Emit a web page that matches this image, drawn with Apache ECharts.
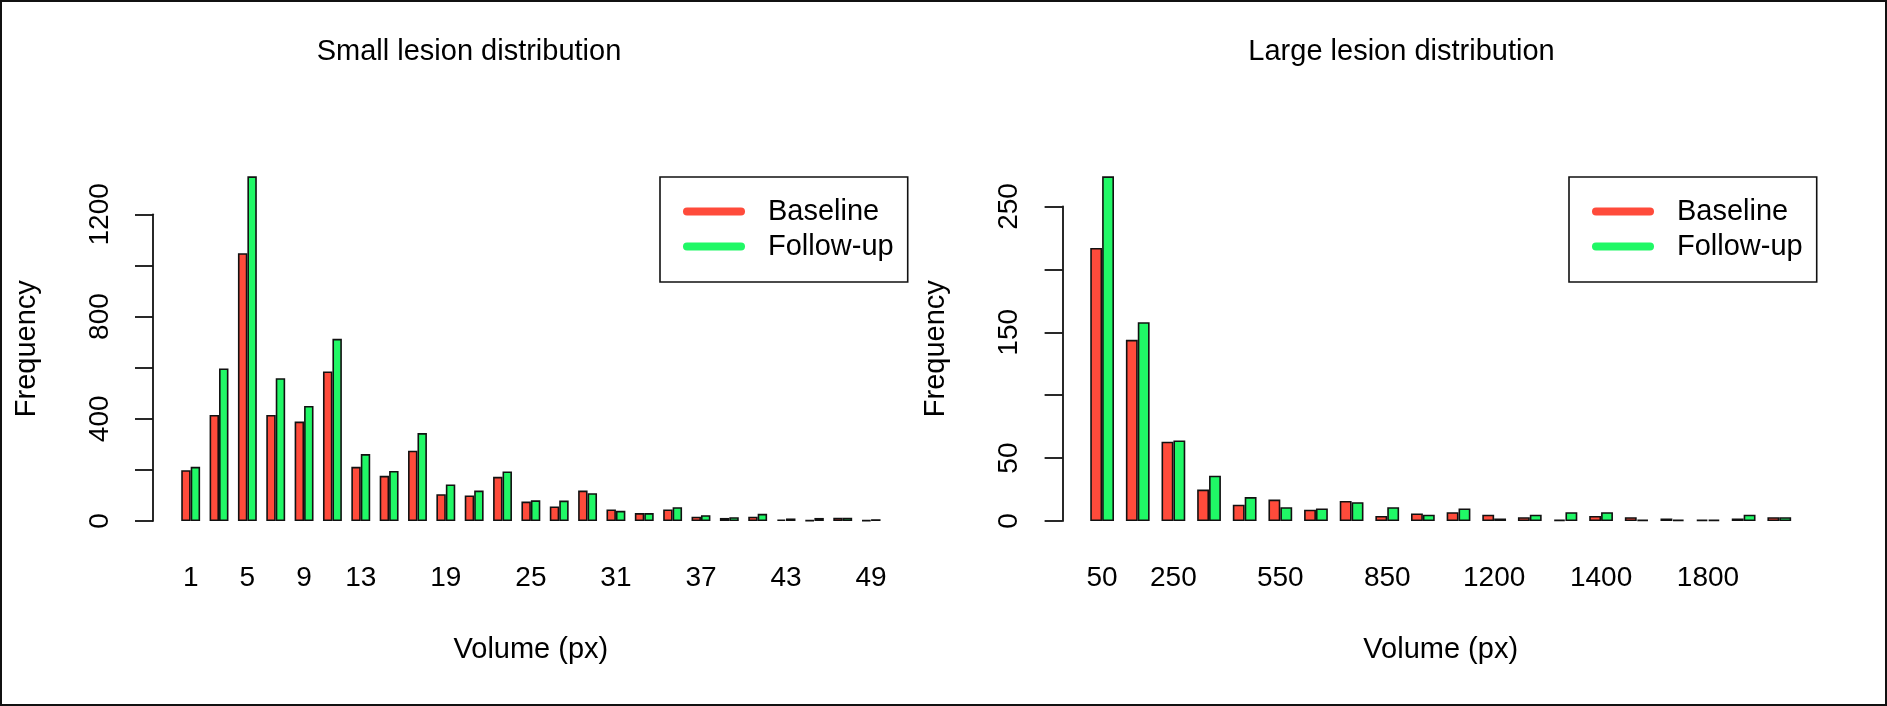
<!DOCTYPE html>
<html><head><meta charset="utf-8">
<script src="https://cdn.jsdelivr.net/npm/echarts@6/dist/echarts.min.js"></script>
<style>html,body{margin:0;padding:0;background:#fff}#c{width:1887px;height:706px}</style>
</head><body><div id="c"></div>
<script>
// ---------- data ----------
const smallCategories = ['1','3','5','7','9','11','13','15','17','19','21','23','25','27','29','31','33','35','37','39','41','43','45','47','49'];
const smallBaseline  = [199, 415, 1048, 415, 389, 585, 212, 177, 275, 105, 100, 173, 76, 57, 119, 45, 31, 45, 17, 12, 17, 6, 3, 13, 3];
const smallFollowUp  = [212, 597, 1349, 559, 450, 713, 262, 196, 344, 143, 119, 194, 81, 80, 109, 40, 31, 54, 23, 15, 28, 10, 12, 13, 7];
const smallYLabels   = [0, 400, 800, 1200];
const smallXLabelIdx = [0, 2, 4, 6, 9, 12, 15, 18, 21, 24];

const largeCategories = ['50','150','250','350','450','550','650','750','850','950','1050','1200','1250','1300','1400','1500','1650','1800','1900','2000'];
const largeBaseline  = [217, 144, 63, 25, 13, 17, 9, 16, 4, 6, 7, 5, 3, 1, 4, 3, 2, 1, 2, 3];
const largeFollowUp  = [274, 158, 64, 36, 19, 11, 10, 15, 11, 5, 10, 2, 5, 7, 7, 1, 1, 1, 5, 3];
const largeYLabels   = [0, 50, 150, 250];
const largeXLabelIdx = [0, 2, 5, 8, 11, 14, 17];

const seriesNames = ['Baseline', 'Follow-up'];
const colors = ['#ff4b3b', '#20f866'];

// ---------- layout ----------
const FONT = 'Liberation Sans, Arial, Helvetica, sans-serif';
const PLOT_TOP = 162.5, PLOT_H = 372.3;
const panels = [
  { title: 'Small lesion distribution', titleX: 469, cats: smallCategories, base: smallBaseline, follow: smallFollowUp,
    yLabels: smallYLabels, xIdx: smallXLabelIdx, axisTop: 1200, interval: 200,
    gridLeft: 176.5, gridWidth: 708.75, axisX: 153, legendLeft: 660 },
  { title: 'Large lesion distribution', titleX: 1401.5, cats: largeCategories, base: largeBaseline, follow: largeFollowUp,
    yLabels: largeYLabels, xIdx: largeXLabelIdx, axisTop: 250, interval: 50,
    gridLeft: 1084.3, gridWidth: 712.8, axisX: 1062.6, legendLeft: 1569 }
];

const grid = [], xAxis = [], yAxis = [], series = [], title = [], legend = [];
panels.forEach((p, i) => {
  const maxV = Math.max(...p.base, ...p.follow);
  const yMin = -0.04 * maxV, yMax = 1.04 * maxV;
  const ppu = PLOT_H / (yMax - yMin);
  const zeroY = PLOT_TOP + yMax * ppu;
  const dTop = zeroY - p.axisTop * ppu;
  const gMain = grid.length;
  grid.push({ left: p.gridLeft, top: PLOT_TOP, width: p.gridWidth, height: PLOT_H, containLabel: false, outerBoundsMode: 'none' });
  const gAxis = grid.length;
  grid.push({ left: p.axisX, top: dTop, width: 1, height: zeroY - dTop, containLabel: false, outerBoundsMode: 'none' });

  const xMain = xAxis.length;
  xAxis.push({
    gridIndex: gMain, type: 'category', data: p.cats, boundaryGap: true,
    axisLine: { show: false, onZero: false }, axisTick: { show: false },
    axisLabel: { interval: (idx) => p.xIdx.includes(idx), margin: 29, fontSize: 28, color: '#000', fontFamily: FONT },
    name: 'Volume (px)', nameLocation: 'middle', nameGap: 101,
    nameTextStyle: { fontSize: 29, color: '#000', fontFamily: FONT }
  });
  const xDummy = xAxis.length;
  xAxis.push({ gridIndex: gAxis, type: 'value', show: false, min: 0, max: 1 });

  const yMain = yAxis.length;
  yAxis.push({
    gridIndex: gMain, type: 'value', min: yMin, max: yMax, offset: p.gridLeft - p.axisX,
    axisLine: { show: false }, axisTick: { show: false }, axisLabel: { show: false }, splitLine: { show: false },
    name: 'Frequency', nameLocation: 'middle', nameRotate: 90, nameGap: 112,
    nameTextStyle: { fontSize: 29, color: '#000', fontFamily: FONT }
  });
  yAxis.push({
    gridIndex: gAxis, type: 'value', min: 0, max: p.axisTop, interval: p.interval,
    axisLine: { show: true, lineStyle: { color: '#111', width: 1.8 } },
    axisTick: { show: true, length: 18, lineStyle: { color: '#111', width: 1.8 } },
    axisLabel: { rotate: 90, margin: 39, fontSize: 28, color: '#000', fontFamily: FONT,
      formatter: (v) => p.yLabels.includes(v) ? String(v) : '' },
    splitLine: { show: false }
  });

  const bw = p.gridWidth / p.cats.length / 3;
  [p.base, p.follow].forEach((d, k) => {
    series.push({
      name: seriesNames[k], type: 'bar', xAxisIndex: xMain, yAxisIndex: yMain, data: d,
      barWidth: bw, barGap: '0%',
      itemStyle: { color: colors[k], borderColor: '#111', borderWidth: 1.6 },
      emphasis: { disabled: true }
    });
  });

  title.push({ text: p.title, left: p.titleX, top: 37, textAlign: 'center', padding: 0,
    textStyle: { fontSize: 29, fontWeight: 'normal', color: '#000', fontFamily: FONT } });

  legend.push({
    data: seriesNames, orient: 'vertical', left: p.legendLeft, top: 177,
    padding: [20, 14, 21, 23], itemGap: 6, itemWidth: 62, itemHeight: 8,
    icon: 'path://M4,0L58,0A4,4,0,0,1,58,8L4,8A4,4,0,0,1,4,0Z',
    itemStyle: { borderWidth: 0 },
    borderColor: '#111', borderWidth: 1.6, borderRadius: 0, backgroundColor: '#fff',
    textStyle: { fontSize: 29, color: '#000', fontFamily: FONT, padding: [0, 0, 0, 18] },
    selectedMode: false
  });
});

const chart = echarts.init(document.getElementById('c'), null, { renderer: 'canvas' });
chart.setOption({
  animation: false,
  backgroundColor: '#fff',
  textStyle: { fontFamily: FONT },
  color: colors,
  title, legend, grid, xAxis, yAxis, series,
  graphic: [{ type: 'rect', shape: { x: 1, y: 1, width: 1885, height: 704 }, style: { fill: 'none', stroke: '#111', lineWidth: 2 }, silent: true }]
});
</script></body></html>
